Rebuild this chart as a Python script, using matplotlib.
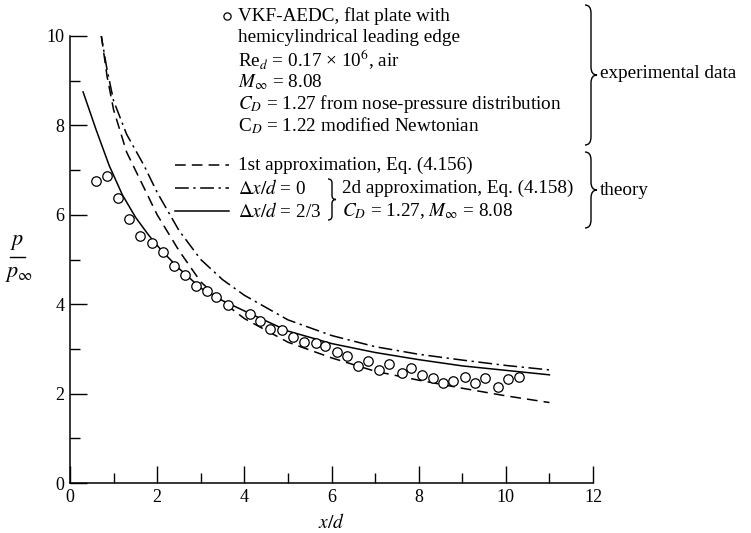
import matplotlib
matplotlib.use("Agg")
import matplotlib.pyplot as plt
from matplotlib.path import Path
from matplotlib.patches import PathPatch
from matplotlib.ticker import MultipleLocator

plt.rcParams["font.family"] = ["Liberation Serif", "DejaVu Serif"]
plt.rcParams["mathtext.fontset"] = "stix"

# Measured surface pressure, VKF-AEDC flat plate with hemicylindrical leading edge
exp_x = [0.60, 0.85, 1.09, 1.35, 1.61, 1.87, 2.14, 2.39, 2.64, 2.89, 3.14, 3.36,
         3.63, 4.14, 4.36, 4.60, 4.86, 5.12, 5.37, 5.64, 5.86, 6.12, 6.35, 6.61,
         6.84, 7.09, 7.32, 7.61, 7.82, 8.07, 8.33, 8.56, 8.79, 9.06, 9.29, 9.52,
         9.82, 10.05, 10.31]
exp_p = [6.75, 6.86, 6.37, 5.90, 5.53, 5.36, 5.17, 4.85, 4.66, 4.40, 4.29, 4.17,
         3.98, 3.78, 3.62, 3.44, 3.42, 3.27, 3.16, 3.14, 3.06, 2.92, 2.83, 2.62,
         2.74, 2.53, 2.66, 2.47, 2.57, 2.42, 2.36, 2.24, 2.29, 2.38, 2.24, 2.36,
         2.15, 2.32, 2.38]

# First approximation, Eq. (4.156)
first_x = [0.72, 0.85, 1.0, 1.3, 1.7, 2.0, 2.5, 3.0, 3.5, 4.0, 5.0, 6.0, 7.0,
           8.0, 9.0, 10.0, 11.0]
first_p = [10.0, 9.1, 8.35, 7.4, 6.6, 6.0, 5.2, 4.5, 4.05, 3.68, 3.15, 2.8,
           2.5, 2.3, 2.12, 1.95, 1.8]

# Second approximation, Eq. (4.158), dx/d = 0
second0_x = [0.70, 0.85, 1.0, 1.3, 1.7, 2.0, 2.5, 3.0, 3.5, 4.0, 5.0, 6.0, 7.0,
             8.0, 9.0, 10.0, 11.0]
second0_p = [10.1, 9.25, 8.55, 7.8, 7.1, 6.5, 5.65, 5.0, 4.55, 4.2, 3.65, 3.3,
             3.05, 2.88, 2.75, 2.63, 2.53]

# Second approximation, Eq. (4.158), dx/d = 2/3
second23_x = [0.30, 0.6, 0.9, 1.2, 1.5, 1.8, 2.1, 2.5, 3.0, 3.5, 4.0, 5.0, 6.0,
              7.0, 8.0, 9.0, 10.0, 11.0]
second23_p = [8.75, 7.9, 7.1, 6.45, 5.95, 5.55, 5.2, 4.8, 4.36, 4.08, 3.85,
              3.4, 3.12, 2.92, 2.76, 2.62, 2.52, 2.42]

x_ticks = [0, 2, 4, 6, 8, 10, 12]
y_ticks = [0, 2, 4, 6, 8, 10]

W, H = 751, 533
fig = plt.figure(figsize=(W / 100, H / 100), dpi=100)
ax = fig.add_axes([70 / W, 1 - 483 / H, (593 - 70) / W, (483 - 36) / H])

lw = 1.1
ax.plot(first_x, first_p, color="black", lw=lw, dashes=(7, 4))
ax.plot(second0_x, second0_p, color="black", lw=lw, dashes=(9, 3, 1.5, 3))
ax.plot(second23_x, second23_p, color="black", lw=lw)
ax.plot(exp_x, exp_p, linestyle="none", marker="o", ms=6.8, mfc="white",
        mec="black", mew=0.9)

ax.set_xlim(0, 12)
ax.set_ylim(0, 10)
ax.set_xticks(x_ticks)
ax.set_yticks(y_ticks)
ax.xaxis.set_minor_locator(MultipleLocator(1))
ax.yaxis.set_minor_locator(MultipleLocator(1))
ax.tick_params(which="major", direction="in", length=12, width=1.0,
               labelsize=13, pad=4)
ax.tick_params(which="minor", direction="in", length=7, width=1.0)
for side in ("top", "right"):
    ax.spines[side].set_visible(False)
for side in ("left", "bottom"):
    ax.spines[side].set_linewidth(1.1)
ax.set_xlabel(r"$x/d$", fontsize=14, labelpad=5)


def fig_xy(px, py):
    return px / W, 1 - py / H


# p / p_inf written as a stacked fraction
fig.text(*fig_xy(17, 243), r"$p$", fontsize=16, ha="center", va="center")
fig.add_artist(plt.Line2D([fig_xy(10, 0)[0], fig_xy(25, 0)[0]],
                          [fig_xy(0, 257)[1]] * 2, color="black", lw=1.0,
                          transform=fig.transFigure))
fig.text(*fig_xy(19, 274), r"$p_\infty$", fontsize=16, ha="center",
         va="center")


def right_brace(x0, ytop, ybot, w=10, r=6):
    """Curly brace opening to the left, tip pointing right, in pixel coords."""
    ym = (ytop + ybot) / 2
    xm = x0 + w / 2
    pts = [
        (x0, ytop), (xm, ytop), (xm, ytop + r),
        (xm, ym - r),
        (xm, ym), (x0 + w, ym),
        (xm, ym), (xm, ym + r),
        (xm, ybot - r),
        (xm, ybot), (x0, ybot),
    ]
    codes = [Path.MOVETO, Path.CURVE3, Path.CURVE3, Path.LINETO,
             Path.CURVE3, Path.CURVE3, Path.CURVE3, Path.CURVE3,
             Path.LINETO, Path.CURVE3, Path.CURVE3]
    verts = [fig_xy(*p) for p in pts]
    fig.add_artist(PathPatch(Path(verts, codes), fill=False, lw=1.0,
                             ec="black", transform=fig.transFigure))


fs = 13.8
tx = 238
rows = [16, 38, 60, 82, 104, 126, 165, 188, 211]
fig.add_artist(plt.Line2D([fig_xy(227, 0)[0]], [fig_xy(0, rows[0])[1]],
                          marker="o", ms=5.2, mfc="white", mec="black",
                          mew=0.9, transform=fig.transFigure))
exp_lines = [
    "VKF-AEDC, flat plate with",
    "hemicylindrical leading edge",
    r"Re$_d$ = 0.17 × 10$^6$, air",
    r"$M_\infty$ = 8.08",
    r"$C_D$ = 1.27 from nose-pressure distribution",
    r"C$_D$ = 1.22 modified Newtonian",
]
for y, s in zip(rows[:6], exp_lines):
    fig.text(*fig_xy(tx, y), s, fontsize=fs, ha="left", va="center")

fig.text(*fig_xy(tx, rows[6]), "1st approximation, Eq. (4.156)",
         fontsize=fs, ha="left", va="center")
fig.text(*fig_xy(tx, rows[7]), r"$\Delta x/d$ = 0",
         fontsize=fs, ha="left", va="center")
fig.text(*fig_xy(tx, rows[8]), r"$\Delta x/d$ = 2/3",
         fontsize=fs, ha="left", va="center")
fig.text(*fig_xy(342, rows[7]), "2d approximation, Eq. (4.158)",
         fontsize=fs, ha="left", va="center")
fig.text(*fig_xy(342, rows[8]), r"$C_D$ = 1.27, $M_\infty$ = 8.08",
         fontsize=fs, ha="left", va="center")

samples = [dict(dashes=(7, 4)), dict(dashes=(9, 3, 1.5, 3)), dict()]
for y, st in zip(rows[6:], samples):
    (xa, ya), (xb, _) = fig_xy(175, y), fig_xy(229, y)
    fig.add_artist(plt.Line2D([xa, xb], [ya, ya], color="black", lw=lw,
                              transform=fig.transFigure, **st))

right_brace(328, rows[7] - 9, rows[8] + 9, w=8, r=4)
right_brace(585, 5, 145, w=12, r=8)
right_brace(585, 152, 228, w=12, r=8)
fig.text(*fig_xy(600, 73), "experimental data", fontsize=fs, ha="left",
         va="center")
fig.text(*fig_xy(600, 190), "theory", fontsize=fs, ha="left", va="center")

fig.savefig("out.png", dpi=100)
